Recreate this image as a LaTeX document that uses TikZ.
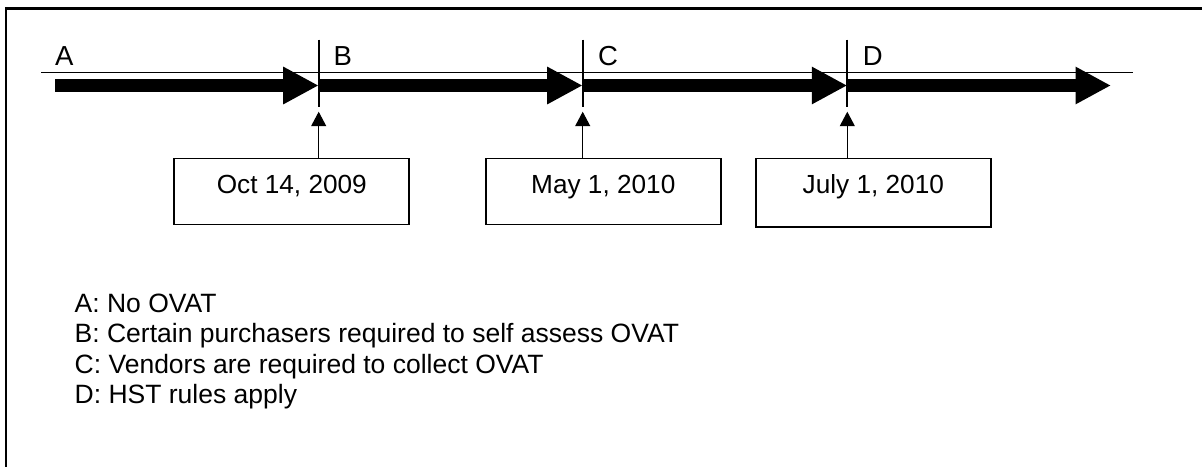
\documentclass[tikz,border=0pt]{standalone}
\usepackage{fontspec}
\setmainfont{Liberation Sans}
\usetikzlibrary{arrows.meta}
\tikzset{
  frameline/.style={line width=2.4pt},
  thinline/.style={line width=1.8pt},
  tickline/.style={line width=2pt},
  bigarrow/.style={line width=12.3pt, -{Triangle[length=35.5pt,width=35pt]}},
  uparrow/.style={line width=1.3pt, -{Triangle[length=14.5pt,width=15pt]}},
  datebox/.style={draw, line width=1.7pt, minimum width=235pt, inner sep=0pt,
    text height=35.5pt, text depth=30.5pt, anchor=north, align=center},
  lbl/.style={inner sep=0pt, anchor=base west},
  periodlbl/.style={lbl, font=\fontsize{27.5pt}{30pt}\selectfont},
  legendlbl/.style={lbl, font=\fontsize{26.5pt}{30.5pt}\selectfont},
}
\begin{document}
\begin{tikzpicture}[x=1pt,y=-1pt,font=\fontsize{26.2pt}{30.5pt}\selectfont]
\useasboundingbox (0,0) rectangle (1202,466);
% frame (open at right and bottom)
\draw[frameline] (6,470) -- (6,8.3) -- (1206,8.3);
% coordinates
\coordinate (l0) at (41,72.5);
\coordinate (l1) at (1133.3,72.5);
\coordinate (p0) at (55,85.5);
\coordinate (p1) at (318.7,85.5);
\coordinate (p2) at (582.7,85.5);
\coordinate (p3) at (847.3,85.5);
\coordinate (p4) at (1111,85.5);
\foreach \i/\x in {1/318.7,2/582.7,3/847.3}{
  \coordinate (t\i a) at (\x,39.5);
  \coordinate (t\i b) at (\x,107);
  \coordinate (u\i) at (\x,111.7);
}
% thin line
\draw[thinline] (l0) -- (l1);
% ticks
\draw[tickline] (t1a) -- (t1b);
\draw[tickline] (t2a) -- (t2b);
\draw[tickline] (t3a) -- (t3b);
% thick arrows
\draw[bigarrow] (p0) -- (p1);
\draw[bigarrow] (p1) -- (p2);
\draw[bigarrow] (p2) -- (p3);
\draw[bigarrow] (p3) -- (p4);
% period labels
\node[periodlbl] (A) at (55,65) {A};
\node[periodlbl] (B) at (333.5,65) {B};
\node[periodlbl] (C) at (598,65) {C};
\node[periodlbl] (D) at (862.7,65) {D};
% date boxes
\node[datebox] (b1) at (291.8,157.5) {Oct 14, 2009};
\node[datebox] (b2) at (603.3,157.5) {May 1, 2010};
\node[datebox, text depth=33pt] (b3) at (873.3,157.5) {July 1, 2010};
% up arrows
\draw[uparrow] (b1.north -| u1) -- (u1);
\draw[uparrow] (b2.north -| u2) -- (u2);
\draw[uparrow] (b3.north -| u3) -- (u3);
% legend
\node[legendlbl] (la) at (74.5,312) {A: No OVAT};
\node[legendlbl] (lb) at (74.5,342.7) {B: Certain purchasers required to self assess OVAT};
\node[legendlbl] (lc) at (74.5,373.3) {C: Vendors are required to collect OVAT};
\node[legendlbl] (ld) at (74.5,403.5) {D: HST rules apply};
\end{tikzpicture}
\end{document}
